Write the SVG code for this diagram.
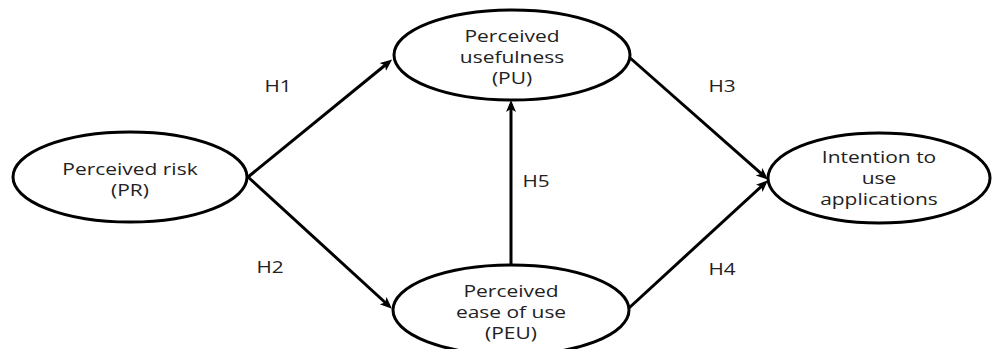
<svg xmlns="http://www.w3.org/2000/svg" width="993" height="349" viewBox="0 0 993 349">
  <style>
    .node ellipse { fill: #ffffff; stroke: #000000; stroke-width: 3; }
    text { font-family: "Open Sans", "Noto Sans", sans-serif; font-size: 16.5px; fill: #222222; text-anchor: middle; }
    .edge { fill: none; stroke: #000000; stroke-width: 3; marker-end: url(#arrow); }
  </style>
  <defs>
    <marker id="arrow" markerUnits="userSpaceOnUse" markerWidth="14" markerHeight="12" refX="8" refY="5" orient="auto">
      <path d="M0,0 L12,5 L0,10 L3,5 Z" fill="#000000"/>
    </marker>
  </defs>
  <g id="connectors">
    <path id="e-h1" class="edge" d="M248,177 L389,62"/>
    <path id="e-h2" class="edge" d="M248,177 L389,306"/>
    <path id="e-h3" class="edge" d="M629,57 L765,177"/>
    <path id="e-h4" class="edge" d="M629,308 L765,183"/>
    <path id="e-h5" class="edge" d="M511,264 L511,104"/>
    <g transform="translate(278,92) scale(1.26,1)"><text x="0" y="0">H1</text></g>
    <g transform="translate(270,273) scale(1.26,1)"><text x="0" y="0">H2</text></g>
    <g transform="translate(722,92) scale(1.26,1)"><text x="0" y="0">H3</text></g>
    <g transform="translate(722,275) scale(1.26,1)"><text x="0" y="0">H4</text></g>
    <g transform="translate(536,187) scale(1.26,1)"><text x="0" y="0">H5</text></g>
  </g>
  <g id="node-pr" class="node">
    <ellipse cx="130" cy="177" rx="117" ry="45"/>
    <g transform="translate(130,0) scale(1.27,1)">
      <text x="0" y="175">Perceived risk</text>
      <text x="0" y="196">(PR)</text>
    </g>
  </g>
  <g id="node-pu" class="node">
    <ellipse cx="512" cy="55" rx="118" ry="45"/>
    <g transform="translate(512,0) scale(1.27,1)">
      <text x="0" y="42">Perceived</text>
      <text x="0" y="63">usefulness</text>
      <text x="0" y="84">(PU)</text>
    </g>
  </g>
  <g id="node-peu" class="node">
    <ellipse cx="511" cy="310" rx="118" ry="45"/>
    <g transform="translate(511,0) scale(1.27,1)">
      <text x="0" y="297">Perceived</text>
      <text x="0" y="318">ease of use</text>
      <text x="0" y="339">(PEU)</text>
    </g>
  </g>
  <g id="node-itu" class="node">
    <ellipse cx="879" cy="178" rx="111" ry="45"/>
    <g transform="translate(879,0) scale(1.27,1)">
      <text x="0" y="163">Intention to</text>
      <text x="0" y="184">use</text>
      <text x="0" y="205">applications</text>
    </g>
  </g>
</svg>
